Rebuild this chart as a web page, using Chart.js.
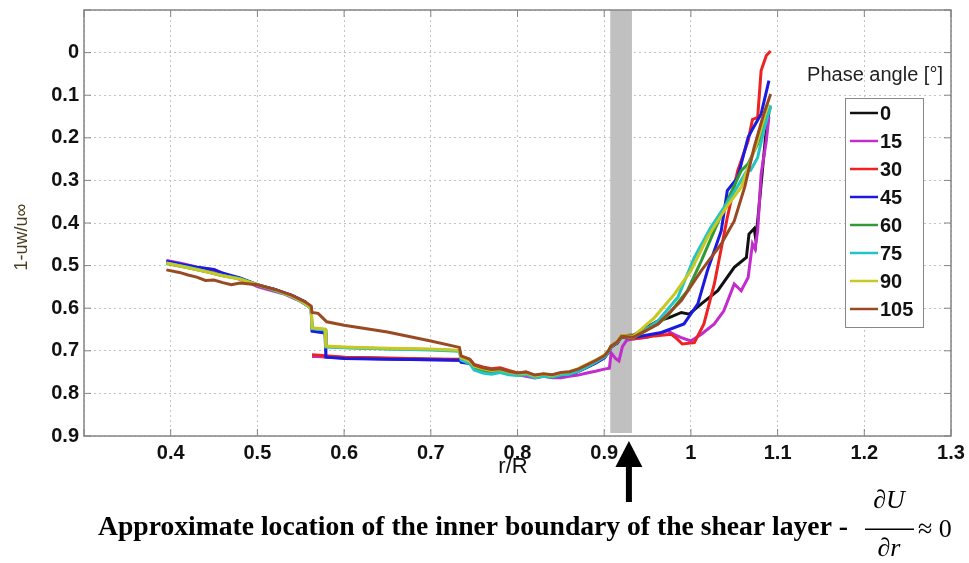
<!DOCTYPE html>
<html>
<head>
<meta charset="utf-8">
<script src="https://cdn.jsdelivr.net/npm/chart.js@4.4.1/dist/chart.umd.min.js"></script>
<style>
  html, body { margin: 0; padding: 0; background: #fff; }
</style>
</head>
<body>
<canvas id="chart" width="969" height="563"></canvas>
<script>
// phase angle labels and colours (legend order)
const phaseAngles = ['0', '15', '30', '45', '60', '75', '90', '105'];
const lineColors = ['#111111', '#c22ccc', '#ee2222', '#1a1ae0', '#2f9a36', '#22c4c4', '#c8c820', '#9a4a22'];

// r/R , 1-uw/u∞ pairs (null = gap in the trace)
const phase0 = [
  [0.395,0.492],[0.41,0.497],[0.43,0.506],[0.45,0.512],[0.46,0.52],[0.48,0.53],[0.5,0.546],[0.52,0.556],[0.54,0.571],[0.555,0.586],[0.562,0.599],[0.5625,null],
  [0.563,0.712],[0.6,0.716],[0.65,0.718],[0.7,0.72],[0.733,0.721],
  [0.735,0.716],[0.745,0.724],[0.75,0.737],[0.76,0.743],[0.77,0.747],[0.78,0.745],[0.79,0.752],[0.8,0.755],[0.81,0.758],[0.82,0.762],[0.83,0.757],[0.84,0.761],[0.85,0.756],[0.86,0.756],[0.87,0.748],[0.88,0.738],[0.89,0.728],[0.9,0.716],[0.905,0.703],[0.908,0.69],[0.915,0.682],[0.92,0.665],[0.934,0.663],
  [0.962,0.63],[0.975,0.622],[0.989,0.61],[0.998,0.614],[1.012,0.59],[1.031,0.559],[1.05,0.504],[1.064,0.481],[1.067,0.426],[1.073,0.413],[1.075,0.44],[1.08,0.33],[1.086,0.2],[1.09,0.14]
];
const phase15 = [
  [0.395,0.488],[0.41,0.494],[0.43,0.503],[0.45,0.51],[0.47,0.525],[0.49,0.54],[0.5,0.549],[0.51,0.555],[0.53,0.566],[0.55,0.584],[0.562,0.599],[0.5625,null],
  [0.563,0.713],[0.6,0.717],[0.65,0.719],[0.7,0.721],[0.733,0.722],
  [0.735,0.718],[0.745,0.725],[0.75,0.738],[0.76,0.744],[0.77,0.749],[0.78,0.747],[0.79,0.753],[0.8,0.756],[0.81,0.76],[0.82,0.764],[0.83,0.76],[0.84,0.763],[0.85,0.763],[0.86,0.76],[0.87,0.757],[0.88,0.752],[0.89,0.748],[0.9,0.743],[0.906,0.741],[0.908,0.705],[0.913,0.718],[0.917,0.724],[0.921,0.69],[0.926,0.675],[0.934,0.672],
  [0.95,0.668],[0.973,0.653],[0.981,0.662],[0.989,0.669],[1.0,0.677],[1.012,0.661],[1.027,0.637],[1.038,0.606],[1.05,0.543],[1.058,0.559],[1.066,0.528],[1.071,0.449],[1.074,0.461],[1.077,0.418],[1.081,0.285],[1.087,0.207],[1.09,0.15]
];
const phase30 = [
  [0.395,0.493],[0.41,0.498],[0.43,0.507],[0.45,0.512],[0.46,0.521],[0.48,0.531],[0.5,0.546],[0.52,0.557],[0.54,0.571],[0.555,0.586],[0.562,0.6],[0.5625,null],
  [0.563,0.709],[0.575,0.711],[0.6,0.715],[0.65,0.717],[0.7,0.719],[0.733,0.72],
  [0.735,0.714],[0.745,0.72],[0.75,0.732],[0.76,0.738],[0.77,0.742],[0.78,0.74],[0.79,0.746],[0.8,0.752],[0.81,0.75],[0.82,0.758],[0.83,0.755],[0.84,0.758],[0.85,0.754],[0.86,0.753],[0.87,0.747],[0.88,0.737],[0.89,0.727],[0.9,0.715],[0.905,0.702],[0.908,0.69],[0.915,0.68],[0.92,0.668],[0.934,0.672],
  [0.958,0.665],[0.977,0.661],[0.984,0.672],[0.99,0.684],[1.004,0.681],[1.015,0.637],[1.027,0.543],[1.042,0.387],[1.054,0.277],[1.066,0.207],[1.071,0.157],[1.077,0.152],[1.081,0.042],[1.087,0.007],[1.092,-0.004]
];
const phase45 = [
  [0.395,0.49],[0.41,0.496],[0.43,0.504],[0.45,0.509],[0.46,0.518],[0.48,0.529],[0.5,0.545],[0.52,0.556],[0.54,0.57],[0.555,0.585],[0.562,0.598],
  [0.563,0.654],[0.578,0.658],[0.579,0.715],[0.6,0.718],[0.65,0.72],[0.7,0.721],[0.733,0.722],
  [0.735,0.727],[0.745,0.73],[0.75,0.74],[0.76,0.745],[0.77,0.75],[0.78,0.746],[0.79,0.752],[0.8,0.756],[0.81,0.755],[0.82,0.761],[0.83,0.758],[0.84,0.762],[0.85,0.757],[0.86,0.755],[0.87,0.749],[0.88,0.739],[0.89,0.729],[0.9,0.717],[0.905,0.704],[0.908,0.692],[0.915,0.681],[0.92,0.667],[0.934,0.669],
  [0.966,0.657],[0.992,0.637],[1.008,0.59],[1.019,0.512],[1.035,0.418],[1.042,0.324],[1.054,0.293],[1.066,0.199],[1.071,0.18],[1.081,0.144],[1.09,0.066]
];
const phase60 = [
  [0.395,0.495],[0.42,0.505],[0.44,0.514],[0.46,0.524],[0.48,0.531],[0.5,0.545],[0.52,0.558],[0.54,0.572],[0.555,0.59],[0.562,0.601],
  [0.563,0.647],[0.578,0.65],[0.579,0.69],[0.6,0.692],[0.65,0.695],[0.7,0.697],[0.733,0.7],
  [0.735,0.72],[0.745,0.728],[0.75,0.742],[0.76,0.748],[0.77,0.752],[0.78,0.749],[0.79,0.754],[0.8,0.757],[0.81,0.754],[0.82,0.762],[0.83,0.759],[0.84,0.761],[0.85,0.756],[0.86,0.754],[0.87,0.747],[0.88,0.737],[0.89,0.726],[0.9,0.714],[0.905,0.702],[0.908,0.69],[0.915,0.68],[0.92,0.667],[0.934,0.669],
  [0.962,0.637],[0.973,0.618],[0.996,0.559],[1.012,0.489],[1.027,0.418],[1.042,0.348],[1.058,0.277],[1.066,0.261],[1.077,0.214],[1.084,0.175],[1.092,0.128]
];
const phase75 = [
  [0.395,0.494],[0.42,0.504],[0.44,0.513],[0.46,0.523],[0.48,0.531],[0.5,0.546],[0.52,0.558],[0.54,0.573],[0.555,0.59],[0.562,0.601],
  [0.563,0.648],[0.578,0.651],[0.579,0.691],[0.6,0.693],[0.65,0.696],[0.7,0.698],[0.733,0.701],
  [0.735,0.722],[0.745,0.73],[0.75,0.745],[0.76,0.752],[0.77,0.755],[0.78,0.751],[0.79,0.756],[0.8,0.758],[0.81,0.756],[0.82,0.763],[0.83,0.76],[0.84,0.762],[0.85,0.757],[0.86,0.755],[0.87,0.748],[0.88,0.738],[0.89,0.727],[0.9,0.715],[0.905,0.703],[0.908,0.69],[0.915,0.68],[0.92,0.666],[0.934,0.669],
  [0.962,0.63],[0.985,0.574],[1.004,0.481],[1.023,0.41],[1.046,0.34],[1.058,0.3],[1.066,0.272],[1.069,0.276],[1.077,0.246],[1.084,0.183],[1.092,0.124]
];
const phase90 = [
  [0.395,0.494],[0.42,0.505],[0.44,0.514],[0.46,0.524],[0.48,0.532],[0.5,0.545],[0.52,0.557],[0.54,0.572],[0.555,0.589],[0.562,0.6],
  [0.563,0.646],[0.578,0.649],[0.579,0.689],[0.6,0.691],[0.65,0.694],[0.7,0.696],[0.733,0.699],
  [0.735,0.716],[0.745,0.724],[0.75,0.736],[0.76,0.742],[0.77,0.746],[0.78,0.744],[0.79,0.75],[0.8,0.753],[0.81,0.752],[0.82,0.759],[0.83,0.755],[0.84,0.758],[0.85,0.752],[0.86,0.749],[0.87,0.742],[0.88,0.732],[0.89,0.722],[0.9,0.71],[0.905,0.699],[0.908,0.688],[0.915,0.678],[0.92,0.664],[0.934,0.665],
  [0.958,0.622],[0.981,0.567],[1.0,0.512],[1.019,0.434],[1.042,0.36],[1.058,0.316],[1.077,0.207],[1.089,0.12]
];
const phase105 = [
  [0.395,0.51],[0.41,0.516],[0.42,0.522],[0.43,0.527],[0.44,0.535],[0.45,0.534],[0.46,0.54],[0.47,0.545],[0.48,0.541],[0.5,0.545],[0.52,0.556],[0.54,0.57],[0.555,0.585],[0.562,0.595],
  [0.563,0.61],[0.57,0.612],[0.575,0.622],[0.58,0.632],[0.6,0.64],[0.65,0.656],[0.7,0.677],[0.733,0.692],
  [0.735,0.712],[0.745,0.72],[0.75,0.733],[0.76,0.74],[0.77,0.744],[0.78,0.742],[0.79,0.748],[0.8,0.752],[0.81,0.75],[0.82,0.757],[0.83,0.754],[0.84,0.756],[0.85,0.751],[0.86,0.749],[0.87,0.743],[0.88,0.733],[0.89,0.723],[0.9,0.712],[0.905,0.7],[0.908,0.689],[0.915,0.679],[0.92,0.666],[0.934,0.668],
  [0.962,0.637],[0.989,0.582],[1.012,0.512],[1.035,0.449],[1.05,0.395],[1.062,0.316],[1.073,0.222],[1.084,0.144],[1.092,0.097]
];
const allSeries = [phase0, phase15, phase30, phase45, phase60, phase75, phase90, phase105];

// shear layer band (r/R) and arrow position
const bandStart = 0.907;
const bandEnd = 0.932;
const arrowAt = 0.9285;

const captionText = 'Approximate location of the inner boundary of the shear layer -';

const decor = {
  id: 'decor',
  beforeDatasetsDraw(chart) {
    const {ctx, chartArea: a, scales: {x}} = chart;
    ctx.save();
    ctx.fillStyle = '#c0c0c0';
    const x0 = x.getPixelForValue(bandStart), x1 = x.getPixelForValue(bandEnd);
    ctx.fillRect(x0, a.top, x1 - x0, a.bottom - a.top - 3);
    ctx.restore();
  },
  afterDraw(chart) {
    const {ctx, chartArea: a, scales: {x, y}} = chart;
    ctx.save();
    // frame + inner ticks
    ctx.strokeStyle = '#858585';
    ctx.lineWidth = 1.5;
    ctx.strokeRect(a.left, a.top, a.right - a.left, a.bottom - a.top);
    ctx.lineWidth = 1;
    ctx.beginPath();
    x.ticks.forEach(t => {
      const px = x.getPixelForValue(t.value);
      ctx.moveTo(px, a.bottom); ctx.lineTo(px, a.bottom - 7);
      ctx.moveTo(px, a.top); ctx.lineTo(px, a.top + 7);
    });
    y.ticks.forEach(t => {
      const py = y.getPixelForValue(t.value);
      ctx.moveTo(a.left, py); ctx.lineTo(a.left + 7, py);
      ctx.moveTo(a.right, py); ctx.lineTo(a.right - 7, py);
    });
    ctx.stroke();

    // axis titles
    ctx.fillStyle = '#111';
    ctx.textAlign = 'center';
    ctx.textBaseline = 'middle';
    ctx.font = "22px 'Liberation Sans Narrow', 'Liberation Sans', Arial";
    ctx.fillText('r/R', 513, 467);
    ctx.save();
    ctx.translate(22, 237);
    ctx.rotate(-Math.PI / 2);
    ctx.fillStyle = '#4a3c1c';
    ctx.font = "18px 'Liberation Sans', Arial";
    ctx.fillText('1-uw/u∞', 0, 0);
    ctx.restore();

    // legend
    ctx.fillStyle = '#222';
    ctx.font = "20px 'Liberation Sans', Arial";
    ctx.fillText('Phase angle [°]', 875, 75);
    ctx.fillStyle = '#fff';
    ctx.fillRect(845, 98, 78, 229);
    ctx.strokeStyle = '#888';
    ctx.lineWidth = 1;
    ctx.strokeRect(845.5, 98.5, 78, 229);
    ctx.textAlign = 'left';
    ctx.font = "bold 20px 'Liberation Sans', Arial";
    chart.data.datasets.forEach((ds, i) => {
      const ly = 113 + i * 28;
      ctx.strokeStyle = ds.borderColor;
      ctx.lineWidth = 2.5;
      ctx.beginPath(); ctx.moveTo(850, ly); ctx.lineTo(878, ly); ctx.stroke();
      ctx.fillStyle = '#111';
      ctx.fillText(ds.label, 880, ly + 1);
    });

    // arrow
    const ax = x.getPixelForValue(arrowAt);
    ctx.fillStyle = '#000';
    ctx.fillRect(ax - 3, 465, 6, 37);
    ctx.beginPath();
    ctx.moveTo(ax, 441); ctx.lineTo(ax - 13.5, 467); ctx.lineTo(ax + 13.5, 467); ctx.closePath();
    ctx.fill();

    // caption
    ctx.textBaseline = 'alphabetic';
    ctx.font = "bold 27px 'Liberation Serif', 'Times New Roman', serif";
    const w = ctx.measureText(captionText).width;
    ctx.save();
    ctx.translate(98, 535);
    ctx.scale(750 / w, 1);
    ctx.fillText(captionText, 0, 0);
    ctx.restore();
    ctx.textAlign = 'center';
    ctx.font = "italic 26px 'Liberation Serif', 'Times New Roman', serif";
    ctx.fillText('∂U', 889, 508);
    ctx.fillText('∂r', 889, 556);
    ctx.fillRect(865, 528.5, 49, 1.5);
    ctx.textAlign = 'left';
    ctx.font = "26px 'Liberation Serif', 'Times New Roman', serif";
    ctx.fillText('≈ 0', 918, 537);
    ctx.restore();
  }
};

const datasets = allSeries.map((pts, i) => ({
  label: phaseAngles[i],
  data: pts.map(p => ({x: p[0], y: p[1]})),
  borderColor: lineColors[i],
  borderWidth: 3,
  pointRadius: 0,
  tension: 0,
  fill: false,
  spanGaps: false,
  order: allSeries.length - i
}));

new Chart(document.getElementById('chart'), {
  type: 'line',
  data: {datasets},
  plugins: [decor],
  options: {
    responsive: false,
    animation: false,
    devicePixelRatio: 1,
    layout: {padding: {top: 10, right: 18, bottom: 0, left: 0}},
    plugins: {legend: {display: false}, tooltip: {enabled: false}},
    scales: {
      x: {
        type: 'linear',
        min: 0.3,
        max: 1.3,
        afterFit: s => { s.height = 127; s.paddingLeft = 0; s.paddingRight = 0; },
        ticks: {
          stepSize: 0.1,
          padding: 5,
          color: '#111',
          font: {family: "'Liberation Sans Narrow', 'Liberation Sans', Arial", size: 20, weight: 'bold'},
          callback: v => Math.abs(v - 0.3) < 1e-6 ? '' : String(+v.toFixed(1))
        },
        grid: {color: '#c4c4c4', drawTicks: false},
        border: {display: false, dash: [2, 3]}
      },
      y: {
        reverse: true,
        min: -0.1,
        max: 0.9,
        afterFit: s => { s.width = 84; s.paddingTop = 0; s.paddingBottom = 0; },
        ticks: {
          stepSize: 0.1,
          padding: 5,
          color: '#111',
          font: {family: "'Liberation Sans', Arial", size: 20, weight: 'bold'},
          callback: v => v < -0.05 ? '' : String(+v.toFixed(1))
        },
        grid: {color: '#c4c4c4', drawTicks: false},
        border: {display: false, dash: [2, 3]}
      }
    }
  }
});
</script>
</body>
</html>
